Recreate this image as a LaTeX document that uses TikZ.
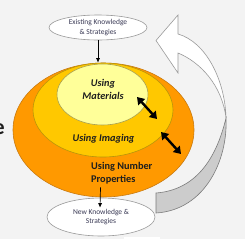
\documentclass[tikz,border=0pt]{standalone}
\usepackage{fontspec}
\setmainfont{Carlito}
\usetikzlibrary{arrows.meta, shapes.geometric}
\definecolor{BackGray}{HTML}{F3F3F3}
\definecolor{OuterOrange}{HTML}{FF9900}
\definecolor{OuterRim}{HTML}{C97A10}
\definecolor{MidGold}{HTML}{FFC800}
\definecolor{MidRim}{HTML}{B8950A}
\definecolor{InnerCream}{HTML}{FFFF99}
\definecolor{InnerRim}{HTML}{A8A050}
\definecolor{RimGray}{HTML}{9A9A9A}
\definecolor{RibbonBack}{HTML}{CCCCCC}
\definecolor{KnowText}{HTML}{3A3A55}
\definecolor{LabelText}{HTML}{1E1E1E}

\begin{document}
\begin{tikzpicture}[
    x=1pt, y=-1pt,
    ring/.style={ellipse, draw, inner sep=0pt, line width=0.6pt},
    know/.style={ellipse, draw=RimGray, fill=white, line width=0.6pt, inner sep=0pt, align=center, font=\fontsize{7.5}{9.5}\selectfont, text=KnowText},
    lbl/.style={align=center, inner sep=0pt, font=\fontsize{10.3}{13}\selectfont\bfseries\itshape, text=LabelText},
    arrow/.style={-{Latex[length=4.5pt,width=4pt]}, line width=0.7pt},
    twoway/.style={{Triangle[length=7pt,width=9pt]}-{Triangle[length=7pt,width=9pt]}, line width=2.4pt}
]

\useasboundingbox (0,0) rectangle (245,239);
\fill[BackGray] (0,0) rectangle (245,239);
\fill[white] (124,236.5) rectangle (160,239);

% curved return arrow on the right
\filldraw[fill=white, draw=RimGray, line width=0.6pt]
    (226,118) .. controls (225,80) and (206,42) .. (178,34)
    -- (178,15) -- (156,40.5) -- (178,73) -- (178,53)
    .. controls (200,62) and (222,85) .. cycle;
\filldraw[fill=RibbonBack, draw=RimGray!80!black, line width=0.6pt]
    (226,118) .. controls (228,160) and (205,210) .. (156,213)
    -- (156,193) .. controls (195,190) and (216,160) .. cycle;

% nested rings
\node[ring, fill=OuterOrange, draw=OuterRim, minimum width=181pt, minimum height=134pt] (outer) at (103.5,130) {};
\node[ring, fill=MidGold, draw=MidRim, minimum width=140pt, minimum height=94pt] (mid) at (103,110) {};
\node[ring, fill=InnerCream, draw=InnerRim, minimum width=91pt, minimum height=61pt] (inner) at (102.5,94.5) {};

\node[lbl] (tmat) at (103,89) {Using\\Materials};
\node[lbl] (timg) at (103.5,139) {Using Imaging};
\node[lbl, align=left, anchor=west, font=\fontsize{10.3}{13}\selectfont\bfseries] (tnum) at (91,173) {Using Number\\Properties};

% knowledge boxes
\node[know, minimum width=98pt, minimum height=25pt] (exist) at (98,27.5) {Existing Knowledge\\\& Strategies};
\node[know, minimum width=108pt, minimum height=38pt] (newk) at (101,217) {New Knowledge \&\\Strategies};

\node[anchor=east, inner sep=0pt, font=\fontsize{22}{22}\selectfont\bfseries, text=LabelText] (ecut) at (5,129) {e};

\draw[arrow] (exist.south) -- (exist.south |- outer.north);
\draw[arrow] ([xshift=-3pt,yshift=10pt]outer.south) -- ([xshift=-1pt,yshift=-10pt]newk.north);

\coordinate (m1) at (137,97);
\coordinate (m2) at (157,119);
\coordinate (n1) at (161,132);
\coordinate (n2) at (181,154);
\draw[twoway] (m1) -- (m2);
\draw[twoway] (n1) -- (n2);

\end{tikzpicture}
\end{document}
